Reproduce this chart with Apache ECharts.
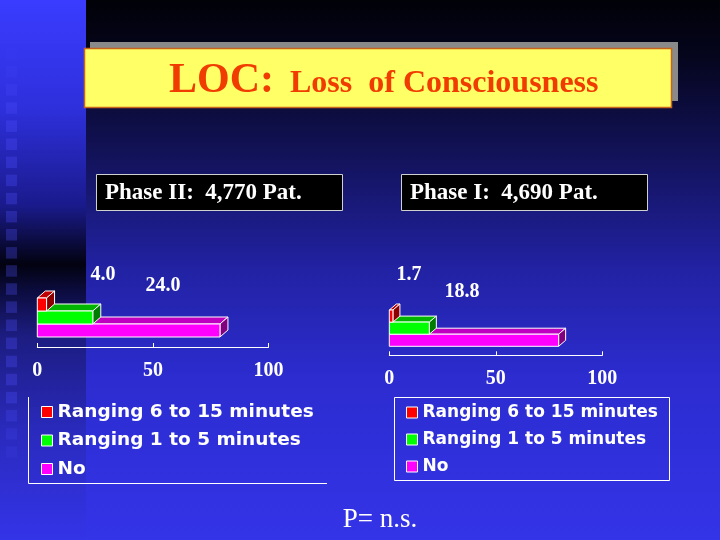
<!DOCTYPE html>
<html><head><meta charset="utf-8">
<script src="https://cdn.jsdelivr.net/npm/echarts@6/dist/echarts.min.js"></script>
<style>html,body{margin:0;padding:0;background:#000;}#c{width:720px;height:540px;}</style>
</head><body><div id="c"></div>
<script>
// ---- data ----
const categories = ['Ranging 6 to 15 minutes', 'Ranging 1 to 5 minutes', 'No'];
const phase2Values = [4.0, 24.0, 79.0];
const phase1Values = [1.7, 18.8, 79.5];
const phaseTitles = ['Phase II:  4,770 Pat.', 'Phase I:  4,690 Pat.'];
const axisMin = 0, axisMax = 100, axisStep = 50;
const titleMain = 'LOC:';
const titleSub = 'Loss  of Consciousness';
const footnote = 'P= n.s.';

// ---- styles ----
const colorSets = [
  {front: '#ff0000', top: '#c00000', side: '#8c0000'},
  {front: '#00ff00', top: '#00b400', side: '#007c00'},
  {front: '#ff00ff', top: '#c000c0', side: '#800080'}
];
const serif = '"Liberation Serif", "Times New Roman", serif';
const sans = '"DejaVu Sans", Verdana, sans-serif';

function makeRender(dx, dy, cs) {
  return function (params, api) {
    const v = api.value(0), c = api.value(1);
    const p0 = api.coord([0, c]), p1 = api.coord([v, c]);
    const h = api.size([0, 1])[1];
    const x0 = p0[0], x1 = p1[0], yT = p0[1] - h / 2, yB = p0[1] + h / 2;
    const st = {stroke: '#ffffff', lineWidth: 1};
    return {type: 'group', children: [
      {type: 'polygon', shape: {points: [[x0, yT], [x0 + dx, yT - dy], [x1 + dx, yT - dy], [x1, yT]]}, style: Object.assign({fill: cs.top}, st)},
      {type: 'polygon', shape: {points: [[x1, yT], [x1 + dx, yT - dy], [x1 + dx, yB - dy], [x1, yB]]}, style: Object.assign({fill: cs.side}, st)},
      {type: 'rect', shape: {x: x0, y: yT, width: x1 - x0, height: h}, style: Object.assign({fill: cs.front}, st)}
    ]};
  };
}

function buildSeries(values, gi, dx, dy) {
  const out = [];
  for (let i = values.length - 1; i >= 0; i--) {
    out.push({
      type: 'custom', name: categories[i], xAxisIndex: gi, yAxisIndex: gi,
      itemStyle: {color: colorSets[i].front},
      renderItem: makeRender(dx, dy, colorSets[i]),
      encode: {x: 0, y: 1},
      data: [[values[i], i]],
      silent: true
    });
  }
  return out;
}

function xAxisFor(gi, offset) {
  return {
    type: 'value', gridIndex: gi, min: axisMin, max: axisMax, interval: axisStep, offset: offset,
    axisLine: {show: true, lineStyle: {color: '#ffffff', width: 1}},
    axisTick: {show: true, inside: true, length: 4, lineStyle: {color: '#ffffff'}},
    axisLabel: {color: '#ffffff', fontFamily: serif, fontWeight: 'bold', fontSize: 20, margin: 14},
    splitLine: {show: false}
  };
}
function yAxisFor(gi) {
  return {type: 'category', gridIndex: gi, data: categories, inverse: true, show: false};
}
function legendFor(left, top, fs, lh, gap) {
  return {
    orient: 'vertical', left: left, top: top, padding: 0, itemGap: gap,
    itemWidth: 11, itemHeight: 11, icon: 'rect', selectedMode: false,
    itemStyle: {borderColor: '#ffffff', borderWidth: 1},
    data: categories,
    textStyle: {color: '#ffffff', fontFamily: sans, fontWeight: 'bold', fontSize: fs, lineHeight: lh, padding: [0, 0, 0, 0]}
  };
}

// decorative squares on left strip
const squares = [];
for (let k = 0; k < 23; k++) {
  const y = 48 + k * 18.1;
  const a = k < 4 ? 0.08 + k * 0.06 : (k > 19 ? 0.3 - (k - 19) * 0.06 : 0.3);
  squares.push({type: 'rect', z: -90, silent: true, shape: {x: 6, y: y, width: 11, height: 11.5},
    style: {fill: 'rgba(80,80,255,' + a.toFixed(2) + ')'}});
}

const valueLabels = [
  {text: phase2Values[0].toFixed(1), x: 103, y: 275},
  {text: phase2Values[1].toFixed(1), x: 163, y: 286},
  {text: phase1Values[0].toFixed(1), x: 409, y: 275},
  {text: phase1Values[1].toFixed(1), x: 462, y: 292}
].map(o => ({type: 'text', z: 50, silent: true, style: {text: o.text, x: o.x, y: o.y, align: 'center', verticalAlign: 'middle',
  fill: '#ffffff', font: 'bold 20px ' + serif}}));

const graphics = [
  {type: 'rect', z: -100, silent: true, shape: {x: 0, y: 0, width: 720, height: 540},
    style: {fill: {type: 'linear', x: 0, y: 0, x2: 0, y2: 1, colorStops: [
      {offset: 0, color: '#010108'}, {offset: 0.1, color: '#05051c'}, {offset: 0.3, color: '#13135e'},
      {offset: 0.5, color: '#2222a4'}, {offset: 0.7, color: '#2c2cd0'}, {offset: 1, color: '#3434e8'}]}}},
  {type: 'rect', z: -95, silent: true, shape: {x: 0, y: 0, width: 86, height: 540},
    style: {fill: {type: 'linear', x: 0, y: 0, x2: 0, y2: 1, colorStops: [
      {offset: 0, color: '#3a3cff'}, {offset: 0.2, color: '#2e30dc'}, {offset: 0.38, color: '#1a1a8c'},
      {offset: 0.49, color: '#020210'}, {offset: 0.54, color: '#0c0c40'}, {offset: 0.62, color: '#1c1c80'},
      {offset: 0.8, color: '#2a2abe'}, {offset: 1, color: '#3434e8'}]}}},
  ...squares,
  // title box
  {type: 'rect', z: 10, silent: true, shape: {x: 90, y: 42, width: 588, height: 59}, style: {fill: '#8a8a8a'}},
  {type: 'rect', z: 11, silent: true, shape: {x: 84.5, y: 48.5, width: 587, height: 59}, style: {fill: '#ffff66', stroke: '#c8641e', lineWidth: 1.5}},
  {type: 'text', z: 12, silent: true, style: {text: titleMain, x: 169, y: 81, verticalAlign: 'middle', fill: '#f03c00', font: 'bold 42px ' + serif}},
  {type: 'text', z: 12, silent: true, style: {text: titleSub, x: 290, y: 84, verticalAlign: 'middle', fill: '#f03c00', font: 'bold 32px ' + serif}},
  // phase boxes
  {type: 'rect', z: 10, silent: true, shape: {x: 96.5, y: 174.5, width: 246, height: 36}, style: {fill: '#000000', stroke: '#d0d0d0', lineWidth: 1}},
  {type: 'text', z: 12, silent: true, style: {text: phaseTitles[0], x: 105, y: 193, verticalAlign: 'middle', fill: '#ffffff', font: 'bold 23px ' + serif}},
  {type: 'rect', z: 10, silent: true, shape: {x: 401.5, y: 174.5, width: 246, height: 36}, style: {fill: '#000000', stroke: '#d0d0d0', lineWidth: 1}},
  {type: 'text', z: 12, silent: true, style: {text: phaseTitles[1], x: 410, y: 193, verticalAlign: 'middle', fill: '#ffffff', font: 'bold 23px ' + serif}},
  // legend borders
  {type: 'polyline', z: 10, silent: true, shape: {points: [[28.5, 397], [28.5, 483.5], [327, 483.5]]}, style: {stroke: '#ffffff', lineWidth: 1, fill: null}},
  {type: 'rect', z: 10, silent: true, shape: {x: 394.5, y: 397.5, width: 275, height: 83}, style: {fill: null, stroke: '#ffffff', lineWidth: 1}},
  ...valueLabels,
  {type: 'text', z: 12, silent: true, style: {text: footnote, x: 380, y: 520, align: 'center', verticalAlign: 'middle', fill: '#ffffff', font: '27px ' + serif}}
];

const chart = echarts.init(document.getElementById('c'));
chart.setOption({
  animation: false,
  backgroundColor: '#10104a',
  grid: [
    {left: 37.3, width: 231.2, top: 298, height: 39, outerBoundsMode: 'none', containLabel: false},
    {left: 389.3, width: 213, top: 310, height: 36.3, outerBoundsMode: 'none', containLabel: false}
  ],
  xAxis: [xAxisFor(0, 10), xAxisFor(1, 9)],
  yAxis: [yAxisFor(0), yAxisFor(1)],
  legend: [legendFor(41, 402, 18.5, 20, 8.5), legendFor(406, 403, 17, 19, 8)],
  graphic: graphics,
  series: [].concat(buildSeries(phase2Values, 0, 8, 7), buildSeries(phase1Values, 1, 7, 6))
});
</script></body></html>
